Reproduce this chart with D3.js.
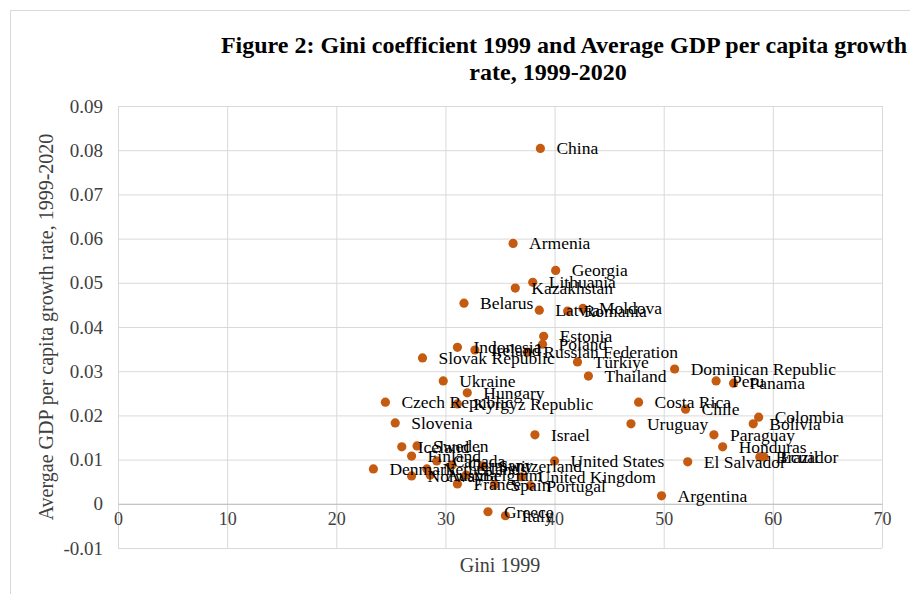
<!DOCTYPE html>
<html>
<head>
<meta charset="utf-8">
<script src="https://cdn.jsdelivr.net/npm/d3@7"></script>
<style>
  body { margin: 0; background: #fff; }
  svg, svg text { font-family: "Liberation Serif", "Times New Roman", serif; }
</style>
</head>
<body>
<svg width="910" height="594"></svg>
<script>
// values
const countries = ['China', 'Armenia', 'Georgia', 'Lithuania', 'Kazakhstan', 'Belarus', 'Latvia', 'Romania', 'Moldova',
  'Estonia', 'Poland', 'Indonesia', 'Ireland', 'Russian Federation', 'Slovak Republic', 'Türkiye', 'Thailand', 'Ukraine',
  'Dominican Republic', 'Peru', 'Panama', 'Hungary', 'Czech Republic', 'Kyrgyz Republic', 'Costa Rica', 'Chile',
  'Slovenia', 'Uruguay', 'Colombia', 'Bolivia', 'Paraguay', 'Honduras', 'El Salvador', 'Brazil', 'Ecuador',
  'Israel', 'Iceland', 'Sweden', 'Finland', 'Canada', 'Denmark', 'Netherlands', 'Norway', 'Austria', 'Germany',
  'Belgium', 'Switzerland', 'France', 'Spain', 'United Kingdom', 'Portugal', 'United States', 'Argentina', 'Greece', 'Italy'];
const gini = [38.7, 36.2, 40.1, 38.0, 36.4, 31.7, 38.6, 41.2, 42.6,
  39.0, 38.9, 31.1, 32.7, 37.5, 27.9, 42.1, 43.1, 29.8,
  51.0, 54.8, 56.4, 32.0, 24.5, 31.1, 47.7, 52.0,
  25.4, 47.0, 58.7, 58.2, 54.6, 55.4, 52.2, 58.8, 59.2,
  38.2, 26.0, 27.4, 26.9, 29.2, 23.4, 28.3, 26.9, 28.6, 30.6,
  31.9, 33.4, 31.1, 34.5, 37.0, 37.8, 40.0, 49.8, 33.9, 35.5];
const growth = [0.0804, 0.0589, 0.0528, 0.0501, 0.0488, 0.0454, 0.0438, 0.0436, 0.0442,
  0.0379, 0.0361, 0.0354, 0.0348, 0.0343, 0.0330, 0.0321, 0.0289, 0.0278,
  0.0305, 0.0278, 0.0273, 0.0251, 0.0230, 0.0226, 0.0230, 0.0214,
  0.0183, 0.0181, 0.0196, 0.0181, 0.0156, 0.0129, 0.0095, 0.0106, 0.0106,
  0.0156, 0.0129, 0.0131, 0.0108, 0.0097, 0.0079, 0.0079, 0.0063, 0.0065, 0.0088,
  0.0065, 0.0086, 0.0045, 0.0043, 0.0061, 0.0041, 0.0097, 0.0018, -0.0018, -0.0027];
const xTicks = [0, 10, 20, 30, 40, 50, 60, 70];
const yTicks = [-0.01, 0, 0.01, 0.02, 0.03, 0.04, 0.05, 0.06, 0.07, 0.08, 0.09];

const data = countries.map((c, i) => ({country: c, gini: gini[i], growth: growth[i]}));

const svg = d3.select('svg');
const margin = {top: 106, right: 28, bottom: 46, left: 118};
const width = +svg.attr('width');
const height = +svg.attr('height');
const innerWidth = width - margin.left - margin.right;
const innerHeight = height - margin.top - margin.bottom;

const gridColor = '#d9d9d9';
const dotColor = '#c55a11';
const axisText = '#404040';

// chart area border
svg.append('rect')
  .attr('x', 10.5).attr('y', 10.5)
  .attr('width', 920).attr('height', 600)
  .attr('fill', 'none').attr('stroke', gridColor);

const xScale = d3.scaleLinear().domain([0, 70]).range([0, innerWidth]);
const yScale = d3.scaleLinear().domain([-0.01, 0.09]).range([innerHeight, 0]);

const g = svg.append('g')
  .attr('transform', `translate(${margin.left}, ${margin.top})`);

// gridlines
g.append('g')
  .call(d3.axisLeft(yScale).tickValues(yTicks).tickSize(-innerWidth).tickFormat(''))
  .call(s => s.select('.domain').remove())
  .selectAll('.tick line').attr('stroke', gridColor);

g.append('g')
  .attr('transform', `translate(0, ${innerHeight})`)
  .call(d3.axisBottom(xScale).tickValues(xTicks).tickSize(-innerHeight).tickFormat(''))
  .call(s => s.select('.domain').remove())
  .selectAll('.tick line').attr('stroke', gridColor);

// y tick labels (plain hyphen for the negative value)
const yFormat = d => d === 0 ? '0' : d3.format('.2f')(d).replace('\u2212', '-');
const yAxisG = g.append('g')
  .call(d3.axisLeft(yScale).tickValues(yTicks).tickSize(0).tickPadding(15).tickFormat(yFormat));
yAxisG.attr('font-family', null).attr('font-size', null);
yAxisG.select('.domain').remove();
yAxisG.selectAll('text').attr('font-size', 19).attr('fill', axisText);

// x axis crosses at 0
const xAxisG = g.append('g')
  .attr('transform', `translate(0, ${yScale(0)})`)
  .call(d3.axisBottom(xScale).tickValues(xTicks).tickSize(0).tickPadding(8));
xAxisG.attr('font-family', null).attr('font-size', null);
xAxisG.select('.domain').attr('stroke', '#bfbfbf');
xAxisG.selectAll('text').attr('font-size', 18).attr('fill', axisText);

// points
g.selectAll('circle').data(data)
  .enter().append('circle')
  .attr('cx', d => xScale(d.gini))
  .attr('cy', d => yScale(d.growth))
  .attr('r', 4.6)
  .attr('fill', dotColor);

// labels on the right of each point
g.selectAll('.label').data(data)
  .enter().append('text')
  .attr('class', 'label')
  .attr('x', d => xScale(d.gini) + 16)
  .attr('y', d => yScale(d.growth) + 6)
  .attr('font-size', 17.5)
  .attr('fill', '#000')
  .text(d => d.country);

// axis titles
svg.append('text')
  .attr('x', 500).attr('y', 572)
  .attr('text-anchor', 'middle')
  .attr('font-size', 20).attr('fill', axisText)
  .text('Gini 1999');

svg.append('text')
  .attr('transform', 'translate(53, 327) rotate(-90)')
  .attr('text-anchor', 'middle')
  .attr('font-size', 20).attr('fill', axisText)
  .text('Avergae GDP per capita growth rate, 1999-2020');

// title
const title = svg.append('text')
  .attr('text-anchor', 'middle')
  .attr('font-size', 24).attr('font-weight', 'bold')
  .attr('fill', '#000');
title.append('tspan').attr('x', 564).attr('y', 53)
  .text('Figure 2: Gini coefficient 1999 and Average GDP per capita growth');
title.append('tspan').attr('x', 548).attr('y', 80)
  .text('rate, 1999-2020');
</script>
</body>
</html>
